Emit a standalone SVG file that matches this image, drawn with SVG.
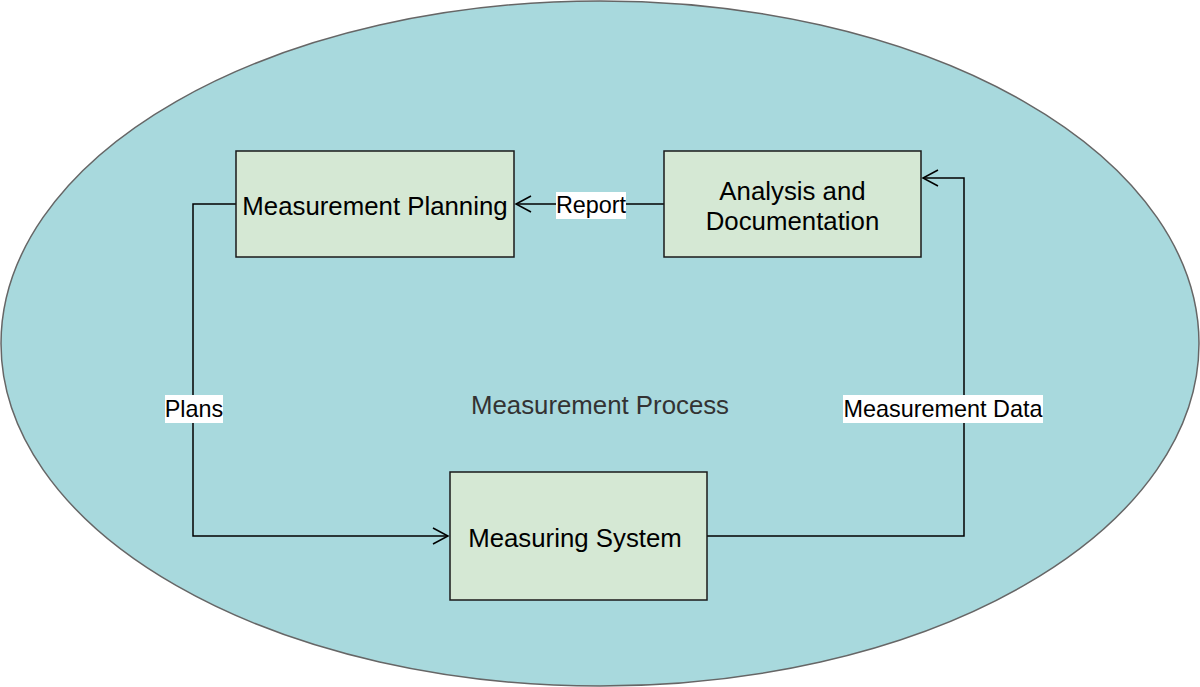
<svg xmlns="http://www.w3.org/2000/svg" width="1200" height="687" viewBox="0 0 1200 687">
<style>
.box{fill:#d5e8d4;stroke:#1a1a1a;stroke-width:1.5}
.t{font-family:"Liberation Sans",Arial,sans-serif;font-size:25.8px;fill:#000;text-anchor:middle}
.lbl{font-family:"Liberation Sans",Arial,sans-serif;font-size:23.4px;fill:#000;text-anchor:middle}
.lbg{fill:#fff}
.c{fill:none;stroke:#000;stroke-width:1.5}
</style>
<defs>
<marker id="ah" markerUnits="userSpaceOnUse" markerWidth="20" markerHeight="20" refX="0" refY="0" viewBox="-17 -10 20 20" orient="auto" overflow="visible">
<path d="M-15,-8 L0,0 L-15,8" fill="none" stroke="#000" stroke-width="1.5"/>
</marker>
</defs>
<g id="process">
<ellipse cx="600" cy="343.5" rx="599" ry="342.5" fill="#a8d9dd" stroke="#666" stroke-width="1.5"/>
<text x="600" y="414" font-family="'Liberation Sans',Arial,sans-serif" font-size="25.8" fill="#333" text-anchor="middle">Measurement Process</text>
</g>
<g id="connectors">
<path class="c" d="M664,204 L516,204" marker-end="url(#ah)"/>
<path class="c" d="M236,204 L193,204 L193,536 L448,536" marker-end="url(#ah)"/>
<path class="c" d="M707,536 L964,536 L964,178 L923,178" marker-end="url(#ah)"/>
<rect class="lbg" x="556" y="192" width="70" height="27"/>
<text class="lbl" x="591" y="213">Report</text>
<rect class="lbg" x="165" y="395" width="58" height="28"/>
<text class="lbl" x="194" y="417">Plans</text>
<rect class="lbg" x="843" y="395" width="200" height="28"/>
<text class="lbl" x="943" y="417">Measurement Data</text>
</g>
<g id="planning">
<rect class="box" x="236" y="151" width="278" height="106"/>
<text class="t" x="375" y="215">Measurement Planning</text>
</g>
<g id="analysis">
<rect class="box" x="664" y="151" width="257" height="106"/>
<text class="t" x="792.5" y="200">Analysis and</text>
<text class="t" x="792.5" y="230">Documentation</text>
</g>
<g id="measuring">
<rect class="box" x="450" y="472" width="257" height="128"/>
<text class="t" x="575" y="547">Measuring System</text>
</g>
</svg>
